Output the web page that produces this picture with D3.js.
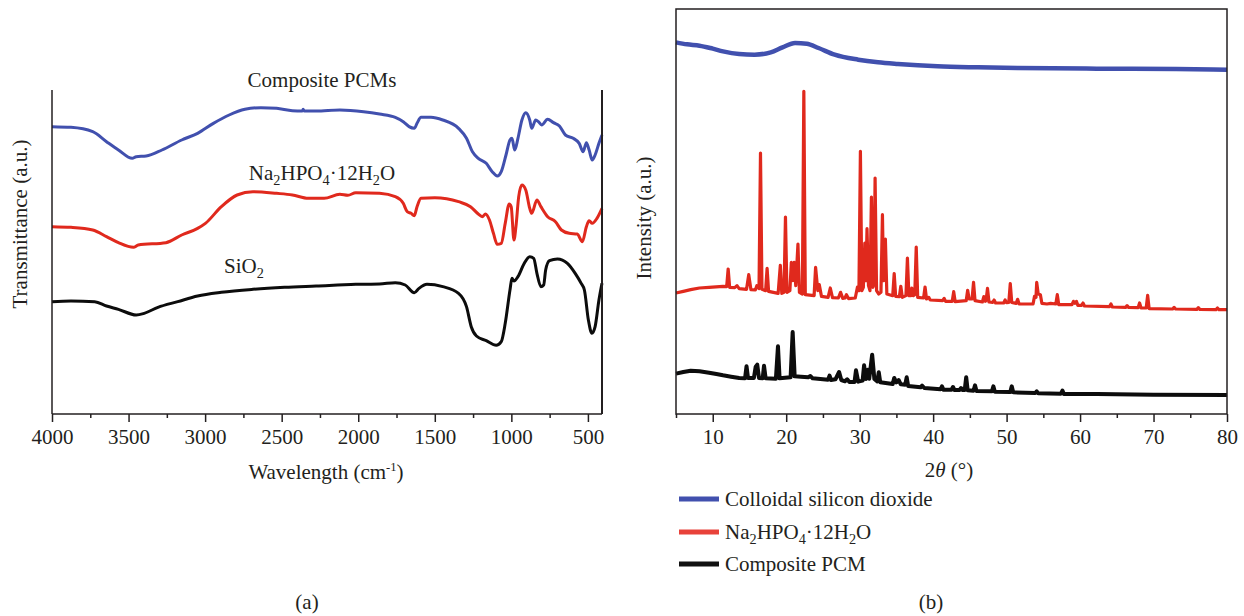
<!DOCTYPE html>
<html>
<head>
<meta charset="utf-8">
<script src="https://cdn.jsdelivr.net/npm/d3@7"></script>
<style>
  body { margin: 0; background: #fff; }
  svg text { font-family: "Liberation Serif", "DejaVu Serif", serif; fill: #231f20; }
</style>
</head>
<body>
<svg id="chart" width="1244" height="616"></svg>
<script>
// ---- (a) FTIR spectra : wavenumber (cm-1) / transmittance (a.u.) ----
var ftirCompositeWn = [4000,3876,3734,3644,3566,3476,3450,3385,3282,3153,3049,2946,2843,2740,2636,2533,2430,2365,2360,2352,2275,2120,1965,1861,1758,1706,1668,1634,1616,1590,1525,1448,1345,1293,1254,1216,1164,1125,1092,1066,1035,1009,996,978,957,931,906,880,867,841,823,802,763,725,686,647,596,557,531,510,492,472,453,428,408];
var ftirCompositeT  = [86.2,86.0,84.7,81.7,79.2,76.7,77.2,77.4,79.2,82.2,84.2,87.2,89.7,91.4,91.9,91.7,91.0,90.9,91.4,90.9,90.9,91.2,90.7,90.0,89.0,87.7,86.2,85.7,87.2,89.0,89.0,88.2,85.7,82.7,78.7,76.7,75.2,72.7,71.4,72.7,77.7,82.2,82.7,79.2,82.7,88.2,90.4,88.2,85.7,88.2,87.7,86.7,88.4,87.4,86.4,83.7,82.7,81.2,78.7,81.4,79.2,76.2,77.7,81.2,83.7];

var ftirSaltWn = [4000,3876,3734,3644,3566,3468,3437,3256,3153,3049,2998,2894,2791,2688,2533,2430,2326,2223,2120,2068,2016,1861,1758,1706,1680,1655,1634,1616,1590,1500,1345,1267,1216,1190,1169,1143,1117,1092,1066,1040,1014,1001,983,970,952,931,906,880,867,833,807,763,712,673,622,570,536,510,492,472,441,408];
var ftirSaltT  = [56.2,56.0,55.2,53.2,51.4,50.0,50.7,51.4,53.7,55.7,57.2,62.2,65.7,66.7,66.2,65.7,64.7,64.7,65.9,65.6,66.4,66.2,65.2,63.2,60.7,60.2,59.5,62.2,64.7,64.9,63.7,62.2,60.0,59.2,60.0,58.2,54.2,50.9,51.2,57.2,63.0,62.2,52.2,56.2,65.2,68.7,67.2,61.7,60.2,64.2,62.2,59.2,57.7,55.2,54.2,54.0,51.7,56.2,58.0,57.2,58.7,61.7];

var ftirSilicaWn = [4000,3876,3721,3644,3566,3450,3398,3308,3179,3049,2894,2688,2481,2275,2016,1861,1758,1693,1634,1603,1551,1448,1345,1293,1262,1228,1164,1099,1066,1040,1009,996,983,957,918,880,854,833,807,789,776,751,699,634,583,544,523,497,474,453,428,408];
var ftirSilicaT  = [33.7,33.9,33.7,32.4,31.4,29.7,30.2,32.0,33.7,35.4,36.5,37.4,38.0,38.4,38.9,39.0,39.4,38.7,36.4,37.7,38.9,38.2,36.2,32.2,26.2,23.4,22.0,20.6,21.7,27.2,37.2,40.7,39.9,41.2,45.0,47.2,46.7,42.2,38.2,38.7,43.2,46.0,46.5,45.2,42.2,39.2,37.2,28.2,24.2,26.2,34.2,39.2];

var ftirMajorTicks = [4000,3500,3000,2500,2000,1500,1000,500];
var ftirMinorTicks = [3750,3250,2750,2250,1750,1250,750];

// ---- (b) XRD patterns : 2theta (deg) / intensity (a.u.) ----
var xrdSilicaTheta = [5,6.5,8.2,10,11.4,13.6,15.7,17.9,19.5,21.2,22.8,24.4,26.6,29.8,32.5,35.2,40.6,46.1,51.5,62.3,73.1,80];
var xrdSilicaI     = [111.5,110.9,110.5,109.6,108.8,108.0,107.8,108.5,110.0,111.3,111.1,109.8,107.8,106.3,105.5,105.0,104.3,104.0,103.8,103.6,103.5,103.3];

var xrdSaltTheta = [5,6,7,8.2,9.5,11.4,11.9,12.1,12.3,13.0,13.3,13.6,14.6,14.9,15.2,15.8,16.0,16.3,16.5,16.7,17.2,17.4,17.6,18.9,19.2,19.4,19.7,19.9,20.1,20.5,20.7,20.9,21.1,21.3,21.6,21.8,22.2,22.4,22.6,23.8,24.0,24.3,24.5,24.8,25.7,26.0,26.3,27.1,27.4,27.7,28.0,28.2,28.5,29.4,29.7,29.9,30.1,30.3,30.5,30.7,30.85,31.0,31.2,31.4,31.6,31.8,31.95,32.1,32.3,32.6,32.9,33.1,33.25,33.5,33.7,34.5,34.7,34.9,35.4,35.6,35.8,36.3,36.5,36.7,37.0,37.1,37.3,37.5,37.7,37.9,38.7,38.9,39.1,39.4,39.6,41.3,41.5,41.7,42.6,42.8,43.0,44.5,44.7,44.9,45.3,45.5,45.7,46.7,46.9,47.1,47.2,47.4,47.6,48.1,48.3,48.5,49.6,49.8,50.0,50.3,50.5,50.7,51.3,51.5,51.7,53.6,53.8,54.0,54.1,54.3,54.6,54.8,55.5,56.0,56.7,56.9,57.1,58.9,59.1,59.3,59.5,59.7,60.2,60.4,60.6,64.0,64.2,64.4,66.2,66.4,66.6,67.9,68.1,68.3,69.0,69.2,69.4,72.6,72.8,73.0,75.9,76.1,76.3,78.5,78.7,78.9,80];
var xrdSaltI     = [36.3,36.8,37.3,37.8,38.0,38.3,38.2,43.5,38.0,37.9,38.5,37.6,37.4,41.8,37.3,37.2,38.5,37.6,78.3,37.4,37.0,43.7,36.8,36.2,44.6,36.2,36.5,59.1,36.5,37.0,45.5,40.0,45.5,38.5,51.0,36.5,36.0,96.8,35.8,35.5,44.0,37.0,38.8,35.3,35.0,37.8,34.9,34.8,36.5,34.7,34.8,35.8,34.6,34.8,38.1,37.0,78.8,37.0,38.0,51.3,40.0,55.6,38.5,37.0,65.1,38.0,39.0,70.8,37.0,36.0,36.5,59.8,40.0,52.5,36.0,35.5,42.1,35.3,35.2,38.3,35.0,35.5,46.8,35.5,35.5,37.8,35.5,35.8,50.1,35.0,34.8,38.1,34.5,35.0,34.2,34.0,34.7,33.8,33.8,36.7,33.7,34.0,37.1,34.5,34.5,39.5,34.0,33.6,35.2,33.8,34.0,37.7,33.6,33.5,34.2,33.3,33.3,34.2,33.4,33.5,39.1,33.5,33.2,34.4,33.0,33.0,35.3,35.0,39.5,36.0,35.8,33.2,33.0,33.2,33.0,35.8,32.8,32.8,33.8,33.2,33.8,32.6,32.6,33.3,32.4,32.2,33.0,32.1,32.0,32.5,32.0,31.9,33.3,31.8,31.8,35.6,31.6,31.5,32.0,31.5,31.4,31.9,31.4,31.3,31.8,31.3,31.3];

var xrdCompositeTheta = [5,6,7,8.2,9.5,10.5,11.4,12.5,13.6,14.4,14.6,14.8,15.6,15.85,16.06,16.3,16.8,16.98,17.2,18.6,18.88,19.1,20.6,20.88,21.15,22.0,23.0,23.3,23.6,25.7,25.9,26.1,26.7,27.2,27.5,28.0,28.3,28.6,29.3,29.5,29.8,30.4,30.6,30.85,31.1,31.3,31.7,32.0,32.4,32.6,32.8,34.5,34.7,35.0,35.3,35.6,36.2,36.4,36.6,38.3,38.5,38.8,41.0,41.2,41.4,42.5,42.7,42.9,43.6,43.8,44.0,44.3,44.5,44.7,45.5,45.7,45.9,48.0,48.2,48.4,50.5,50.7,50.9,53.9,54.1,54.3,57.4,57.6,57.8,62.3,70,80];
var xrdCompositeI     = [12.1,12.6,13.0,12.8,12.4,12.0,11.6,11.2,10.8,10.7,14.3,10.8,10.8,14.2,14.8,10.8,10.7,14.5,10.7,10.6,20.3,10.7,11.0,24.6,11.3,11.2,11.0,11.4,10.7,10.3,11.5,10.2,10.4,12.6,10.2,9.8,10.4,9.6,9.6,13.1,9.7,10.0,14.6,10.5,13.3,10.6,17.8,10.5,9.8,12.5,9.5,9.0,10.8,9.5,10.2,8.9,8.8,11.0,8.4,8.0,8.5,7.8,7.4,8.3,7.3,7.3,8.1,7.2,7.2,7.8,7.2,7.2,11.0,7.1,7.0,8.6,6.9,6.8,8.3,6.7,6.6,8.3,6.5,6.3,6.8,6.2,6.1,7.0,6.0,6.0,5.8,5.7];

var xrdMajorTicks = [10,20,30,40,50,60,70,80];
var xrdMinorTicks = [5,15,25,35,45,55,65,75];

var legendNames = ["Colloidal silicon dioxide", "Na2HPO4·12H2O", "Composite PCM"];
var legendColors = ["#4150ae", "#e8423a", "#111111"];

var svg = d3.select("#chart");

function zip(xs, ys) {
    return xs.map(function (x, i) { return [x, ys[i]]; });
}

// writes Na2HPO4·12H2O with subscripts
function saltText(sel) {
    sel.append("tspan").text("Na");
    sel.append("tspan").attr("dy", 5).attr("font-size", "0.68em").text("2");
    sel.append("tspan").attr("dy", -5).text("HPO");
    sel.append("tspan").attr("dy", 5).attr("font-size", "0.68em").text("4");
    sel.append("tspan").attr("dy", -5).text("·12H");
    sel.append("tspan").attr("dy", 5).attr("font-size", "0.68em").text("2");
    sel.append("tspan").attr("dy", -5).text("O");
}

// ================= panel (a) =================
var xA = d3.scaleLinear().domain([4000, 408]).range([52, 602]),
    yA = d3.scaleLinear().domain([0, 97.2]).range([414, 90]);

var gA = svg.append("g");

var lineA = d3.line()
    .x(function (d) { return xA(d[0]); })
    .y(function (d) { return yA(d[1]); })
    .curve(d3.curveMonotoneX);

[[ftirCompositeWn, ftirCompositeT, "#4150ae"],
 [ftirSaltWn, ftirSaltT, "#e0291d"],
 [ftirSilicaWn, ftirSilicaT, "#0c0c0c"]].forEach(function (s) {
    gA.append("path")
        .datum(zip(s[0], s[1]))
        .attr("d", lineA)
        .attr("fill", "none")
        .attr("stroke", s[2])
        .attr("stroke-width", 3)
        .attr("stroke-linejoin", "round");
});

// frame: bottom axis + side lines
gA.append("line").attr("x1", 52).attr("x2", 52).attr("y1", yA.range()[1]).attr("y2", yA.range()[0])
    .attr("stroke", "#231f20").attr("stroke-width", 1.5);
gA.append("line").attr("x1", 602).attr("x2", 602).attr("y1", yA.range()[1]).attr("y2", yA.range()[0])
    .attr("stroke", "#231f20").attr("stroke-width", 2);

var axA = gA.append("g").attr("transform", "translate(0,414)")
    .call(d3.axisBottom(xA).tickValues(ftirMajorTicks).tickSize(8).tickPadding(7).tickFormat(d3.format("d")));
axA.select(".domain").attr("stroke", "#231f20").attr("stroke-width", 1.5).attr("d", "M52,0H602");
axA.selectAll(".tick line").attr("stroke", "#231f20").attr("stroke-width", 1.5);
axA.selectAll(".tick text").attr("font-size", 21).attr("font-family", "Liberation Serif").attr("fill", "#231f20");

gA.append("g").attr("transform", "translate(0,414)")
    .call(d3.axisBottom(xA).tickValues(ftirMinorTicks).tickSize(4).tickFormat(""))
    .call(function (g) { g.select(".domain").remove(); })
    .selectAll(".tick line").attr("stroke", "#231f20").attr("stroke-width", 1.5);

gA.append("text").attr("x", 326).attr("y", 479).attr("text-anchor", "middle").attr("font-size", 21)
    .call(function (t) {
        t.append("tspan").text("Wavelength (cm");
        t.append("tspan").attr("dy", -8).attr("font-size", "0.6em").text("-1");
        t.append("tspan").attr("dy", 8).text(")");
    });

gA.append("text").attr("transform", "translate(27,224) rotate(-90)").attr("text-anchor", "middle")
    .attr("font-size", 21).text("Transmittance (a.u.)");

gA.append("text").attr("x", 322).attr("y", 87).attr("text-anchor", "middle").attr("font-size", 21).text("Composite PCMs");
gA.append("text").attr("x", 322).attr("y", 180).attr("text-anchor", "middle").attr("font-size", 21).call(saltText);
gA.append("text").attr("x", 224).attr("y", 273).attr("font-size", 21)
    .call(function (t) {
        t.append("tspan").text("SiO");
        t.append("tspan").attr("dy", 5).attr("font-size", "0.68em").text("2");
    });

gA.append("text").attr("x", 307).attr("y", 609).attr("text-anchor", "middle").attr("font-size", 21).text("(a)");

// ================= panel (b) =================
var xB = d3.scaleLinear().domain([5, 80]).range([676, 1227]),
    yB = d3.scaleLinear().domain([0, 121.5]).range([414, 9]);

var gB = svg.append("g");

var lineB = d3.line()
    .x(function (d) { return xB(d[0]); })
    .y(function (d) { return yB(d[1]); });

[[xrdSilicaTheta, xrdSilicaI, "#4150ae", 4.5, d3.curveMonotoneX],
 [xrdSaltTheta, xrdSaltI, "#e0291d", 3.2, d3.curveLinear],
 [xrdCompositeTheta, xrdCompositeI, "#0c0c0c", 4, d3.curveLinear]].forEach(function (s) {
    gB.append("path")
        .datum(zip(s[0], s[1]))
        .attr("d", lineB.curve(s[4]))
        .attr("fill", "none")
        .attr("stroke", s[2])
        .attr("stroke-width", s[3])
        .attr("stroke-linejoin", "round");
});

gB.append("rect").attr("x", 676).attr("y", 9).attr("width", 1227 - 676).attr("height", 414 - 9)
    .attr("fill", "none").attr("stroke", "#231f20").attr("stroke-width", 1.5);

var axB = gB.append("g").attr("transform", "translate(0,414)")
    .call(d3.axisBottom(xB).tickValues(xrdMajorTicks).tickSize(8).tickPadding(7));
axB.select(".domain").remove();
axB.selectAll(".tick line").attr("stroke", "#231f20").attr("stroke-width", 1.5);
axB.selectAll(".tick text").attr("font-size", 21).attr("font-family", "Liberation Serif").attr("fill", "#231f20");

gB.append("g").attr("transform", "translate(0,414)")
    .call(d3.axisBottom(xB).tickValues(xrdMinorTicks).tickSize(4).tickFormat(""))
    .call(function (g) { g.select(".domain").remove(); })
    .selectAll(".tick line").attr("stroke", "#231f20").attr("stroke-width", 1.5);

gB.append("text").attr("x", 949).attr("y", 477).attr("text-anchor", "middle").attr("font-size", 21)
    .call(function (t) {
        t.append("tspan").text("2");
        t.append("tspan").attr("font-style", "italic").text("θ");
        t.append("tspan").text(" (°)");
    });

gB.append("text").attr("transform", "translate(651,218) rotate(-90)").attr("text-anchor", "middle")
    .attr("font-size", 21).text("Intensity (a.u.)");

// legend
var leg = gB.selectAll(".leg").data(legendNames).enter().append("g")
    .attr("transform", function (d, i) { return "translate(679," + [499, 532, 564][i] + ")"; });
leg.append("line").attr("x1", 0).attr("x2", 40)
    .attr("stroke", function (d, i) { return legendColors[i]; }).attr("stroke-width", 5);
leg.append("text").attr("x", 46).attr("y", 7).attr("font-size", 21)
    .each(function (d, i) {
        if (i === 1) d3.select(this).call(saltText);
        else d3.select(this).text(d);
    });

gB.append("text").attr("x", 931).attr("y", 609).attr("text-anchor", "middle").attr("font-size", 21).text("(b)");
</script>
</body>
</html>
